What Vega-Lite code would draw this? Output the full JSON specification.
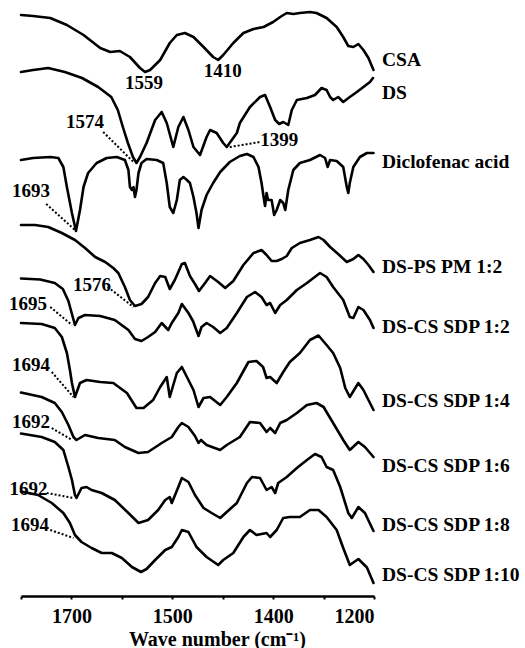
{
  "$schema": "https://vega.github.io/schema/vega-lite/v6.json",
  "width": 353,
  "height": 591,
  "autosize": {"type": "none"},
  "padding": {"left": 21, "top": 5, "right": 151, "bottom": 52},
  "background": "white",
  "config": {"view": {"stroke": null}, "font": "Liberation Serif"},
  "datasets": {
    "spectra": [
      {"s":"CSA","wn":1800,"t":581},{"s":"CSA","wn":1776,"t":580},{"s":"CSA","wn":1742,"t":578},{"s":"CSA","wn":1709,"t":571},{"s":"CSA","wn":1676,"t":561},{"s":"CSA","wn":1643,"t":548},{"s":"CSA","wn":1623,"t":544},{"s":"CSA","wn":1604,"t":545},{"s":"CSA","wn":1584,"t":539},{"s":"CSA","wn":1564,"t":528},{"s":"CSA","wn":1554,"t":524},{"s":"CSA","wn":1544,"t":526},{"s":"CSA","wn":1524,"t":536},{"s":"CSA","wn":1505,"t":553},{"s":"CSA","wn":1491,"t":561},{"s":"CSA","wn":1475,"t":563},{"s":"CSA","wn":1458,"t":559},{"s":"CSA","wn":1438,"t":549},{"s":"CSA","wn":1419,"t":539},{"s":"CSA","wn":1409,"t":536},{"s":"CSA","wn":1399,"t":541},{"s":"CSA","wn":1379,"t":553},{"s":"CSA","wn":1359,"t":563},{"s":"CSA","wn":1339,"t":567},{"s":"CSA","wn":1319,"t":569},{"s":"CSA","wn":1300,"t":574},{"s":"CSA","wn":1286,"t":579},{"s":"CSA","wn":1273,"t":583},{"s":"CSA","wn":1260,"t":582},{"s":"CSA","wn":1247,"t":583},{"s":"CSA","wn":1227,"t":584},{"s":"CSA","wn":1214,"t":583},{"s":"CSA","wn":1194,"t":578},{"s":"CSA","wn":1174,"t":569},{"s":"CSA","wn":1161,"t":559},{"s":"CSA","wn":1151,"t":550},{"s":"CSA","wn":1141,"t":549},{"s":"CSA","wn":1131,"t":552},{"s":"CSA","wn":1121,"t":546},{"s":"CSA","wn":1111,"t":538},{"s":"CSA","wn":1101,"t":526},

      {"s":"DS","wn":1800,"t":524},{"s":"DS","wn":1776,"t":526},{"s":"DS","wn":1746,"t":528},{"s":"DS","wn":1713,"t":524},{"s":"DS","wn":1679,"t":518},{"s":"DS","wn":1647,"t":509},{"s":"DS","wn":1621,"t":499},{"s":"DS","wn":1608,"t":486},{"s":"DS","wn":1598,"t":469},{"s":"DS","wn":1588,"t":453},{"s":"DS","wn":1578,"t":439},{"s":"DS","wn":1571,"t":433},{"s":"DS","wn":1564,"t":439},{"s":"DS","wn":1551,"t":453},{"s":"DS","wn":1534,"t":476},{"s":"DS","wn":1521,"t":484},{"s":"DS","wn":1511,"t":473},{"s":"DS","wn":1498,"t":449},{"s":"DS","wn":1488,"t":469},{"s":"DS","wn":1478,"t":479},{"s":"DS","wn":1468,"t":466},{"s":"DS","wn":1458,"t":449},{"s":"DS","wn":1445,"t":441},{"s":"DS","wn":1432,"t":459},{"s":"DS","wn":1425,"t":466},{"s":"DS","wn":1412,"t":463},{"s":"DS","wn":1399,"t":453},{"s":"DS","wn":1392,"t":449},{"s":"DS","wn":1372,"t":463},{"s":"DS","wn":1366,"t":473},{"s":"DS","wn":1346,"t":489},{"s":"DS","wn":1326,"t":499},{"s":"DS","wn":1316,"t":501},{"s":"DS","wn":1306,"t":489},{"s":"DS","wn":1296,"t":476},{"s":"DS","wn":1288,"t":472},{"s":"DS","wn":1280,"t":474},{"s":"DS","wn":1270,"t":471},{"s":"DS","wn":1263,"t":486},{"s":"DS","wn":1253,"t":496},{"s":"DS","wn":1233,"t":498},{"s":"DS","wn":1217,"t":501},{"s":"DS","wn":1204,"t":508},{"s":"DS","wn":1194,"t":506},{"s":"DS","wn":1187,"t":499},{"s":"DS","wn":1181,"t":496},{"s":"DS","wn":1171,"t":499},{"s":"DS","wn":1161,"t":494},{"s":"DS","wn":1148,"t":499},{"s":"DS","wn":1134,"t":504},{"s":"DS","wn":1121,"t":509},{"s":"DS","wn":1108,"t":514},{"s":"DS","wn":1102,"t":518},

      {"s":"DA","wn":1800,"t":436},{"s":"DA","wn":1776,"t":438},{"s":"DA","wn":1742,"t":439},{"s":"DA","wn":1726,"t":438},{"s":"DA","wn":1716,"t":429},{"s":"DA","wn":1709,"t":409},{"s":"DA","wn":1699,"t":383},{"s":"DA","wn":1691,"t":365},{"s":"DA","wn":1683,"t":386},{"s":"DA","wn":1676,"t":409},{"s":"DA","wn":1667,"t":423},{"s":"DA","wn":1650,"t":433},{"s":"DA","wn":1630,"t":438},{"s":"DA","wn":1610,"t":439},{"s":"DA","wn":1594,"t":436},{"s":"DA","wn":1587,"t":426},{"s":"DA","wn":1584,"t":409},{"s":"DA","wn":1580,"t":406},{"s":"DA","wn":1577,"t":409},{"s":"DA","wn":1574,"t":399},{"s":"DA","wn":1571,"t":406},{"s":"DA","wn":1567,"t":423},{"s":"DA","wn":1561,"t":433},{"s":"DA","wn":1551,"t":437},{"s":"DA","wn":1531,"t":436},{"s":"DA","wn":1518,"t":433},{"s":"DA","wn":1511,"t":413},{"s":"DA","wn":1505,"t":389},{"s":"DA","wn":1498,"t":383},{"s":"DA","wn":1491,"t":396},{"s":"DA","wn":1485,"t":416},{"s":"DA","wn":1478,"t":419},{"s":"DA","wn":1471,"t":416},{"s":"DA","wn":1465,"t":413},{"s":"DA","wn":1458,"t":399},{"s":"DA","wn":1452,"t":383},{"s":"DA","wn":1448,"t":368},{"s":"DA","wn":1442,"t":386},{"s":"DA","wn":1432,"t":401},{"s":"DA","wn":1419,"t":413},{"s":"DA","wn":1405,"t":424},{"s":"DA","wn":1386,"t":434},{"s":"DA","wn":1366,"t":440},{"s":"DA","wn":1352,"t":442},{"s":"DA","wn":1339,"t":439},{"s":"DA","wn":1329,"t":429},{"s":"DA","wn":1323,"t":413},{"s":"DA","wn":1318,"t":396},{"s":"DA","wn":1316,"t":390},{"s":"DA","wn":1313,"t":403},{"s":"DA","wn":1310,"t":396},{"s":"DA","wn":1303,"t":396},{"s":"DA","wn":1298,"t":381},{"s":"DA","wn":1293,"t":386},{"s":"DA","wn":1286,"t":396},{"s":"DA","wn":1280,"t":393},{"s":"DA","wn":1276,"t":386},{"s":"DA","wn":1270,"t":406},{"s":"DA","wn":1260,"t":426},{"s":"DA","wn":1247,"t":433},{"s":"DA","wn":1227,"t":436},{"s":"DA","wn":1207,"t":441},{"s":"DA","wn":1197,"t":438},{"s":"DA","wn":1192,"t":429},{"s":"DA","wn":1187,"t":436},{"s":"DA","wn":1174,"t":435},{"s":"DA","wn":1161,"t":429},{"s":"DA","wn":1154,"t":409},{"s":"DA","wn":1151,"t":403},{"s":"DA","wn":1148,"t":413},{"s":"DA","wn":1141,"t":429},{"s":"DA","wn":1128,"t":439},{"s":"DA","wn":1114,"t":443},{"s":"DA","wn":1101,"t":443},

      {"s":"PM12","wn":1800,"t":371},{"s":"PM12","wn":1772,"t":371},{"s":"PM12","wn":1746,"t":369},{"s":"PM12","wn":1719,"t":363},{"s":"PM12","wn":1693,"t":356},{"s":"PM12","wn":1673,"t":348},{"s":"PM12","wn":1653,"t":339},{"s":"PM12","wn":1633,"t":334},{"s":"PM12","wn":1617,"t":328},{"s":"PM12","wn":1607,"t":323},{"s":"PM12","wn":1594,"t":309},{"s":"PM12","wn":1584,"t":296},{"s":"PM12","wn":1574,"t":290},{"s":"PM12","wn":1561,"t":292},{"s":"PM12","wn":1548,"t":299},{"s":"PM12","wn":1534,"t":313},{"s":"PM12","wn":1524,"t":320},{"s":"PM12","wn":1514,"t":319},{"s":"PM12","wn":1505,"t":307},{"s":"PM12","wn":1495,"t":316},{"s":"PM12","wn":1481,"t":332},{"s":"PM12","wn":1475,"t":333},{"s":"PM12","wn":1465,"t":320},{"s":"PM12","wn":1455,"t":312},{"s":"PM12","wn":1447,"t":305},{"s":"PM12","wn":1435,"t":313},{"s":"PM12","wn":1425,"t":320},{"s":"PM12","wn":1409,"t":314},{"s":"PM12","wn":1395,"t":308},{"s":"PM12","wn":1379,"t":315},{"s":"PM12","wn":1359,"t":331},{"s":"PM12","wn":1339,"t":343},{"s":"PM12","wn":1323,"t":346},{"s":"PM12","wn":1313,"t":341},{"s":"PM12","wn":1303,"t":335},{"s":"PM12","wn":1293,"t":335},{"s":"PM12","wn":1283,"t":337},{"s":"PM12","wn":1273,"t":340},{"s":"PM12","wn":1263,"t":348},{"s":"PM12","wn":1247,"t":353},{"s":"PM12","wn":1227,"t":356},{"s":"PM12","wn":1210,"t":359},{"s":"PM12","wn":1200,"t":356},{"s":"PM12","wn":1187,"t":349},{"s":"PM12","wn":1171,"t":342},{"s":"PM12","wn":1154,"t":334},{"s":"PM12","wn":1141,"t":337},{"s":"PM12","wn":1131,"t":341},{"s":"PM12","wn":1121,"t":337},{"s":"PM12","wn":1111,"t":331},{"s":"PM12","wn":1101,"t":324},

      {"s":"S12","wn":1800,"t":317.5},{"s":"S12","wn":1762,"t":316.5},{"s":"S12","wn":1733,"t":313},{"s":"S12","wn":1717,"t":307},{"s":"S12","wn":1706,"t":295},{"s":"S12","wn":1699,"t":282},{"s":"S12","wn":1693,"t":271},{"s":"S12","wn":1686,"t":278},{"s":"S12","wn":1673,"t":281},{"s":"S12","wn":1643,"t":280},{"s":"S12","wn":1614,"t":276},{"s":"S12","wn":1587,"t":266},{"s":"S12","wn":1574,"t":257},{"s":"S12","wn":1561,"t":255},{"s":"S12","wn":1548,"t":259},{"s":"S12","wn":1534,"t":264},{"s":"S12","wn":1521,"t":273},{"s":"S12","wn":1508,"t":266},{"s":"S12","wn":1501,"t":273},{"s":"S12","wn":1488,"t":283},{"s":"S12","wn":1481,"t":292},{"s":"S12","wn":1468,"t":283},{"s":"S12","wn":1459,"t":275},{"s":"S12","wn":1448,"t":260},{"s":"S12","wn":1442,"t":269},{"s":"S12","wn":1432,"t":273},{"s":"S12","wn":1419,"t":269},{"s":"S12","wn":1405,"t":263},{"s":"S12","wn":1392,"t":268},{"s":"S12","wn":1372,"t":283},{"s":"S12","wn":1352,"t":299},{"s":"S12","wn":1336,"t":304},{"s":"S12","wn":1323,"t":299},{"s":"S12","wn":1313,"t":291},{"s":"S12","wn":1306,"t":293},{"s":"S12","wn":1296,"t":283},{"s":"S12","wn":1286,"t":291},{"s":"S12","wn":1273,"t":296},{"s":"S12","wn":1253,"t":306},{"s":"S12","wn":1233,"t":313},{"s":"S12","wn":1207,"t":323},{"s":"S12","wn":1194,"t":319},{"s":"S12","wn":1181,"t":309},{"s":"S12","wn":1161,"t":296},{"s":"S12","wn":1148,"t":279},{"s":"S12","wn":1141,"t":278},{"s":"S12","wn":1131,"t":289},{"s":"S12","wn":1121,"t":286},{"s":"S12","wn":1108,"t":276},{"s":"S12","wn":1101,"t":268},

      {"s":"S14","wn":1800,"t":273},{"s":"S14","wn":1759,"t":272},{"s":"S14","wn":1733,"t":268},{"s":"S14","wn":1719,"t":259},{"s":"S14","wn":1709,"t":243},{"s":"S14","wn":1703,"t":226},{"s":"S14","wn":1699,"t":213},{"s":"S14","wn":1693,"t":199},{"s":"S14","wn":1683,"t":213},{"s":"S14","wn":1670,"t":216},{"s":"S14","wn":1643,"t":214},{"s":"S14","wn":1617,"t":213},{"s":"S14","wn":1590,"t":203},{"s":"S14","wn":1571,"t":188},{"s":"S14","wn":1557,"t":188},{"s":"S14","wn":1538,"t":196},{"s":"S14","wn":1524,"t":209},{"s":"S14","wn":1511,"t":219},{"s":"S14","wn":1505,"t":199},{"s":"S14","wn":1491,"t":223},{"s":"S14","wn":1481,"t":229},{"s":"S14","wn":1471,"t":219},{"s":"S14","wn":1458,"t":206},{"s":"S14","wn":1448,"t":189},{"s":"S14","wn":1438,"t":198},{"s":"S14","wn":1425,"t":199},{"s":"S14","wn":1405,"t":191},{"s":"S14","wn":1392,"t":199},{"s":"S14","wn":1372,"t":213},{"s":"S14","wn":1349,"t":234},{"s":"S14","wn":1333,"t":235},{"s":"S14","wn":1320,"t":229},{"s":"S14","wn":1313,"t":218},{"s":"S14","wn":1306,"t":219},{"s":"S14","wn":1293,"t":213},{"s":"S14","wn":1280,"t":224},{"s":"S14","wn":1267,"t":234},{"s":"S14","wn":1247,"t":243},{"s":"S14","wn":1227,"t":256},{"s":"S14","wn":1210,"t":260.5},{"s":"S14","wn":1194,"t":251},{"s":"S14","wn":1181,"t":243},{"s":"S14","wn":1167,"t":228},{"s":"S14","wn":1157,"t":208},{"s":"S14","wn":1148,"t":199},{"s":"S14","wn":1131,"t":213},{"s":"S14","wn":1121,"t":206},{"s":"S14","wn":1111,"t":196},{"s":"S14","wn":1101,"t":186},

      {"s":"S16","wn":1800,"t":203.5},{"s":"S16","wn":1759,"t":199},{"s":"S16","wn":1733,"t":193},{"s":"S16","wn":1719,"t":184},{"s":"S16","wn":1706,"t":171},{"s":"S16","wn":1696,"t":159},{"s":"S16","wn":1690,"t":156},{"s":"S16","wn":1673,"t":161},{"s":"S16","wn":1647,"t":158},{"s":"S16","wn":1614,"t":156},{"s":"S16","wn":1594,"t":149},{"s":"S16","wn":1567,"t":143},{"s":"S16","wn":1548,"t":144},{"s":"S16","wn":1521,"t":153},{"s":"S16","wn":1501,"t":159},{"s":"S16","wn":1488,"t":169},{"s":"S16","wn":1481,"t":173},{"s":"S16","wn":1468,"t":169},{"s":"S16","wn":1455,"t":160},{"s":"S16","wn":1448,"t":153},{"s":"S16","wn":1443,"t":156},{"s":"S16","wn":1432,"t":151},{"s":"S16","wn":1405,"t":146},{"s":"S16","wn":1392,"t":151},{"s":"S16","wn":1366,"t":159},{"s":"S16","wn":1346,"t":174},{"s":"S16","wn":1326,"t":173},{"s":"S16","wn":1313,"t":164},{"s":"S16","wn":1306,"t":168},{"s":"S16","wn":1296,"t":163},{"s":"S16","wn":1286,"t":173},{"s":"S16","wn":1273,"t":176},{"s":"S16","wn":1253,"t":183},{"s":"S16","wn":1233,"t":191},{"s":"S16","wn":1214,"t":193},{"s":"S16","wn":1200,"t":189},{"s":"S16","wn":1181,"t":173},{"s":"S16","wn":1161,"t":156},{"s":"S16","wn":1148,"t":146},{"s":"S16","wn":1131,"t":154},{"s":"S16","wn":1118,"t":149},{"s":"S16","wn":1101,"t":139},

      {"s":"S18","wn":1800,"t":162.5},{"s":"S18","wn":1759,"t":159},{"s":"S18","wn":1733,"t":154},{"s":"S18","wn":1716,"t":146},{"s":"S18","wn":1706,"t":129},{"s":"S18","wn":1699,"t":116},{"s":"S18","wn":1693,"t":101},{"s":"S18","wn":1690,"t":98},{"s":"S18","wn":1680,"t":108},{"s":"S18","wn":1670,"t":109},{"s":"S18","wn":1660,"t":106},{"s":"S18","wn":1640,"t":103},{"s":"S18","wn":1614,"t":96},{"s":"S18","wn":1587,"t":83},{"s":"S18","wn":1567,"t":73},{"s":"S18","wn":1548,"t":76},{"s":"S18","wn":1528,"t":86},{"s":"S18","wn":1514,"t":96},{"s":"S18","wn":1505,"t":99},{"s":"S18","wn":1501,"t":93},{"s":"S18","wn":1488,"t":109},{"s":"S18","wn":1481,"t":118},{"s":"S18","wn":1468,"t":114},{"s":"S18","wn":1455,"t":101},{"s":"S18","wn":1438,"t":88},{"s":"S18","wn":1422,"t":83},{"s":"S18","wn":1405,"t":78},{"s":"S18","wn":1392,"t":84},{"s":"S18","wn":1372,"t":93},{"s":"S18","wn":1352,"t":113},{"s":"S18","wn":1342,"t":119},{"s":"S18","wn":1326,"t":118},{"s":"S18","wn":1313,"t":106},{"s":"S18","wn":1303,"t":109},{"s":"S18","wn":1296,"t":103},{"s":"S18","wn":1290,"t":113},{"s":"S18","wn":1273,"t":119},{"s":"S18","wn":1253,"t":128},{"s":"S18","wn":1233,"t":136},{"s":"S18","wn":1217,"t":142},{"s":"S18","wn":1204,"t":139},{"s":"S18","wn":1194,"t":129},{"s":"S18","wn":1181,"t":126},{"s":"S18","wn":1167,"t":109},{"s":"S18","wn":1151,"t":83},{"s":"S18","wn":1144,"t":78},{"s":"S18","wn":1131,"t":89},{"s":"S18","wn":1118,"t":83},{"s":"S18","wn":1101,"t":65},

      {"s":"S110","wn":1800,"t":104.5},{"s":"S110","wn":1766,"t":101},{"s":"S110","wn":1739,"t":93},{"s":"S110","wn":1716,"t":83},{"s":"S110","wn":1703,"t":73},{"s":"S110","wn":1693,"t":61},{"s":"S110","wn":1680,"t":54},{"s":"S110","wn":1660,"t":48},{"s":"S110","wn":1640,"t":43},{"s":"S110","wn":1620,"t":43},{"s":"S110","wn":1600,"t":38},{"s":"S110","wn":1580,"t":29},{"s":"S110","wn":1562,"t":24},{"s":"S110","wn":1551,"t":27},{"s":"S110","wn":1534,"t":36},{"s":"S110","wn":1514,"t":46},{"s":"S110","wn":1501,"t":49},{"s":"S110","wn":1488,"t":59},{"s":"S110","wn":1481,"t":66},{"s":"S110","wn":1468,"t":64},{"s":"S110","wn":1452,"t":49},{"s":"S110","wn":1432,"t":39},{"s":"S110","wn":1409,"t":31},{"s":"S110","wn":1399,"t":36},{"s":"S110","wn":1379,"t":43},{"s":"S110","wn":1359,"t":59},{"s":"S110","wn":1346,"t":66},{"s":"S110","wn":1333,"t":61},{"s":"S110","wn":1313,"t":63},{"s":"S110","wn":1306,"t":59},{"s":"S110","wn":1293,"t":66},{"s":"S110","wn":1280,"t":78},{"s":"S110","wn":1267,"t":79},{"s":"S110","wn":1247,"t":79},{"s":"S110","wn":1227,"t":86},{"s":"S110","wn":1210,"t":86},{"s":"S110","wn":1194,"t":79},{"s":"S110","wn":1174,"t":66},{"s":"S110","wn":1161,"t":48},{"s":"S110","wn":1148,"t":31},{"s":"S110","wn":1131,"t":37},{"s":"S110","wn":1114,"t":28.5},{"s":"S110","wn":1101,"t":13}
    ],
    "peaks": [
      {"text":"1559","wn":1556,"t":513.5},
      {"text":"1410","wn":1400,"t":525.5},
      {"text":"1574","wn":1673,"t":474.5},
      {"text":"1399","wn":1288,"t":456},
      {"text":"1693","wn":1780,"t":405.5},
      {"text":"1576","wn":1659,"t":311},
      {"text":"1695","wn":1786,"t":292.5},
      {"text":"1694","wn":1780,"t":231.5},
      {"text":"1692","wn":1780,"t":174.5},
      {"text":"1692","wn":1785,"t":107.5},
      {"text":"1694","wn":1782,"t":71}
    ],
    "leaders": [
      {"wn":1637,"t":464,"wn2":1577,"t2":434},
      {"wn":1386,"t":449,"wn2":1326,"t2":454},
      {"wn":1750,"t":392,"wn2":1693,"t2":366},
      {"wn":1628,"t":309,"wn2":1577,"t2":289},
      {"wn":1742,"t":289,"wn2":1699,"t2":271},
      {"wn":1739,"t":224,"wn2":1696,"t2":199},
      {"wn":1739,"t":168,"wn2":1699,"t2":156},
      {"wn":1749,"t":103,"wn2":1696,"t2":98},
      {"wn":1742,"t":66,"wn2":1696,"t2":58}
    ],
    "names": [
      {"name":"CSA","wn":1100,"t":536},
      {"name":"DS","wn":1100,"t":503},
      {"name":"Diclofenac acid","wn":1100,"t":434.5},
      {"name":"DS-PS PM 1:2","wn":1100,"t":329.3},
      {"name":"DS-CS SDP 1:2","wn":1100,"t":269},
      {"name":"DS-CS SDP 1:4","wn":1100,"t":195.5},
      {"name":"DS-CS SDP 1:6","wn":1100,"t":130.5},
      {"name":"DS-CS SDP 1:8","wn":1100,"t":71},
      {"name":"DS-CS SDP 1:10","wn":1100,"t":21.5}
    ]
  },
  "layer": [
    {
      "data": {"name": "spectra"},
      "mark": {"type": "line", "color": "black", "strokeWidth": 2.6, "strokeJoin": "round", "strokeCap": "round"},
      "encoding": {
        "x": {
          "field": "wn", "type": "quantitative",
          "scale": {"domain": [1100, 1800], "reverse": true, "nice": false, "zero": false},
          "axis": {
            "values": [1800, 1700, 1600, 1500, 1400, 1300, 1200, 1100],
            "labelExpr": "datum.value == 1700 ? '1700' : datum.value == 1500 ? '1500' : datum.value == 1300 ? '1400' : datum.value == 1100 ? '1200' : ''",
            "title": "Wave number (cm⁻¹)",
            "grid": false,
            "domainColor": "black", "domainWidth": 2.5,
            "tickColor": "black", "tickWidth": 2, "tickSize": 3,
            "labelFont": "Liberation Serif", "labelFontWeight": "bold", "labelFontSize": 20, "labelColor": "black",
            "labelPadding": 7, "labelOverlap": false,
            "titleFont": "Liberation Serif", "titleFontWeight": "bold", "titleFontSize": 20, "titleColor": "black",
            "titleX": 196, "titleY": 49, "titleAnchor": null, "titleAlign": "center", "titleBaseline": "alphabetic"
          }
        },
        "y": {
          "field": "t", "type": "quantitative",
          "scale": {"domain": [0, 591], "nice": false, "zero": false},
          "axis": null
        },
        "detail": {"field": "s"}
      }
    },
    {
      "data": {"name": "leaders"},
      "mark": {"type": "rule", "color": "black", "strokeWidth": 2, "strokeDash": [2, 2]},
      "encoding": {
        "x": {"field": "wn", "type": "quantitative"},
        "x2": {"field": "wn2"},
        "y": {"field": "t", "type": "quantitative"},
        "y2": {"field": "t2"}
      }
    },
    {
      "data": {"name": "peaks"},
      "mark": {"type": "text", "font": "Liberation Serif", "fontWeight": "bold", "fontSize": 19, "color": "black", "align": "center", "baseline": "middle"},
      "encoding": {
        "x": {"field": "wn", "type": "quantitative"},
        "y": {"field": "t", "type": "quantitative"},
        "text": {"field": "text"}
      }
    },
    {
      "data": {"name": "names"},
      "mark": {"type": "text", "font": "Liberation Serif", "fontWeight": "bold", "fontSize": 19.5, "color": "black", "align": "left", "baseline": "middle", "dx": 8},
      "encoding": {
        "x": {"field": "wn", "type": "quantitative"},
        "y": {"field": "t", "type": "quantitative"},
        "text": {"field": "name"}
      }
    }
  ]
}
